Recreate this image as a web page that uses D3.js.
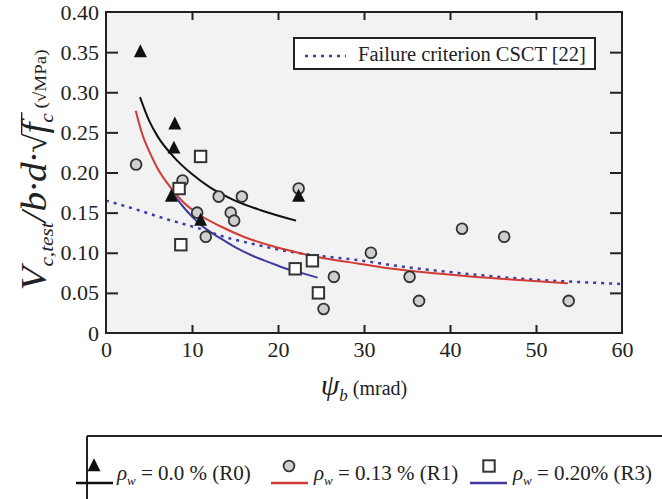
<!DOCTYPE html>
<html lang="en">
  <head>
    <meta charset="UTF-8" />
    <title>Shear strength vs rotation</title>
    <style>
      body { margin: 0; background: #fff; }
      text { font-family: "Liberation Serif", "Times New Roman", serif; fill: #222; }
    </style>
  </head>
  <body>
    <svg id="svg" width="662" height="499"></svg>

    <script src="https://d3js.org/d3.v7.min.js"></script>
    <script>
      // test points, [psi_b (mrad), V/(b d sqrt fc)]
      const r0Points = [[4.0, 0.35], [8.0, 0.26], [7.9, 0.23], [7.6, 0.17], [11.0, 0.14], [22.4, 0.17]];
      const r1Points = [
        [3.5, 0.21], [8.9, 0.19], [10.6, 0.15], [11.6, 0.12], [13.1, 0.17], [15.8, 0.17],
        [14.5, 0.15], [14.9, 0.14], [22.4, 0.18], [26.5, 0.07], [25.3, 0.03], [30.8, 0.10],
        [35.3, 0.07], [36.4, 0.04], [41.4, 0.13], [46.3, 0.12], [53.8, 0.04]
      ];
      const r3Points = [[11.0, 0.22], [8.5, 0.18], [8.7, 0.11], [22.0, 0.08], [24.0, 0.09], [24.7, 0.05]];

      // trend curves
      const r0Curve = [[3.95, 0.294], [5, 0.265], [6, 0.245], [8, 0.218], [10, 0.198], [12, 0.182], [15, 0.165], [18, 0.153], [22.1, 0.14]];
      const r1Curve = [
        [3.45, 0.277], [4.3, 0.245], [5, 0.227], [6, 0.205], [7.6, 0.18], [9, 0.163], [10.9, 0.147],
        [13.3, 0.133], [16, 0.12], [19.1, 0.109], [22, 0.101], [24.9, 0.094], [28.4, 0.088],
        [32, 0.082], [35, 0.078], [38.5, 0.074], [42.7, 0.07], [48, 0.066], [53.7, 0.062]
      ];
      const r3Curve = [[7.9, 0.172], [9, 0.157], [10, 0.145], [11, 0.135], [12, 0.127], [13.3, 0.118], [15, 0.107], [17.1, 0.096], [19, 0.088], [21, 0.08], [23, 0.074], [24.6, 0.069]];
      const csctCurve = [
        [0, 0.165], [3.2, 0.155], [7, 0.142], [10.9, 0.13], [14, 0.119], [17.1, 0.111], [21, 0.102],
        [24.9, 0.096], [28.4, 0.092], [35, 0.082], [42.7, 0.073], [50.5, 0.066], [56, 0.063], [60, 0.061]
      ];

      const xTicks = [0, 10, 20, 30, 40, 50, 60];
      const yTicks = [0, 0.05, 0.1, 0.15, 0.2, 0.25, 0.3, 0.35, 0.4];
      const yTickLabels = ["0", "0.05", "0.10", "0.15", "0.20", "0.25", "0.30", "0.35", "0.40"];

      const legendLabels = [
        { sub: "w", rest: " = 0.0 % (R0)" },
        { sub: "w", rest: " = 0.13 % (R1)" },
        { sub: "w", rest: " = 0.20% (R3)" }
      ];

      const pLeft = 106, pRight = 622, pTop = 12, pBottom = 333;
      const x = d3.scaleLinear().domain([0, 60]).range([pLeft, pRight]);
      const y = d3.scaleLinear().domain([0, 0.4]).range([pBottom, pTop]);

      const red = "#d23a35", blue = "#3f3a9c", dotBlue = "#3d3da6";

      const svg = d3.select("#svg");

      svg.append("rect")
        .attr("x", pLeft).attr("y", pTop)
        .attr("width", pRight - pLeft).attr("height", pBottom - pTop)
        .attr("fill", "#f2f2f2");

      // axes with inward ticks
      const gx = svg.append("g").attr("transform", `translate(0,${pBottom})`)
        .call(d3.axisBottom(x).tickValues(xTicks).tickSizeInner(-8).tickSizeOuter(0).tickPadding(8));
      const gxt = svg.append("g").attr("transform", `translate(0,${pTop})`)
        .call(d3.axisTop(x).tickValues(xTicks.slice(1, -1)).tickFormat("").tickSizeInner(-8).tickSizeOuter(0));
      const gy = svg.append("g").attr("transform", `translate(${pLeft},0)`)
        .call(d3.axisLeft(y).tickValues(yTicks).tickFormat((d, i) => yTickLabels[i]).tickSizeInner(-12).tickSizeOuter(0).tickPadding(6));
      const gyr = svg.append("g").attr("transform", `translate(${pRight},0)`)
        .call(d3.axisRight(y).tickValues(yTicks.slice(1, -1)).tickFormat("").tickSizeInner(-12).tickSizeOuter(0));

      [gx, gxt, gy, gyr].forEach((g) => {
        g.select(".domain").remove();
        g.selectAll(".tick line").attr("stroke", "#222").attr("stroke-width", 2);
        g.selectAll(".tick text")
          .attr("font-family", "Liberation Serif, serif")
          .attr("font-size", 22).attr("fill", "#222");
      });
      gx.selectAll(".tick line").filter((d) => d === 0 || d === 60).remove();
      gy.selectAll(".tick line").filter((d) => d === 0 || d === 0.4).remove();
      gy.selectAll(".tick text").attr("dx", "-1");

      const line = d3.line().x((d) => x(d[0])).y((d) => y(d[1])).curve(d3.curveMonotoneX);

      svg.append("path").datum(csctCurve).attr("d", line)
        .attr("fill", "none").attr("stroke", dotBlue).attr("stroke-width", 2.5)
        .attr("stroke-dasharray", "3,5");
      svg.append("path").datum(r0Curve).attr("d", line)
        .attr("fill", "none").attr("stroke", "#111").attr("stroke-width", 2);
      svg.append("path").datum(r1Curve).attr("d", line)
        .attr("fill", "none").attr("stroke", red).attr("stroke-width", 2);
      svg.append("path").datum(r3Curve).attr("d", line)
        .attr("fill", "none").attr("stroke", blue).attr("stroke-width", 2);

      // slightly tall triangle, like the printed marker
      const tallTriangle = {
        draw(ctx, size) {
          const w = Math.sqrt(size) * 0.75, h = w * 2;
          ctx.moveTo(0, -h * 0.6);
          ctx.lineTo(w, h * 0.4);
          ctx.lineTo(-w, h * 0.4);
          ctx.closePath();
        }
      };
      const tri = d3.symbol().type(tallTriangle).size(75);

      svg.append("g").selectAll("circle").data(r1Points).join("circle")
        .attr("cx", (d) => x(d[0])).attr("cy", (d) => y(d[1])).attr("r", 5.4)
        .attr("fill", "#cfcfcf").attr("stroke", "#333").attr("stroke-width", 1.8);
      svg.append("g").selectAll("rect").data(r3Points).join("rect")
        .attr("x", (d) => x(d[0]) - 5.7).attr("y", (d) => y(d[1]) - 5.7)
        .attr("width", 11.4).attr("height", 11.4)
        .attr("fill", "#fff").attr("stroke", "#333").attr("stroke-width", 2);
      svg.append("g").selectAll("path").data(r0Points).join("path")
        .attr("d", tri)
        .attr("transform", (d) => `translate(${x(d[0])},${y(d[1])})`)
        .attr("fill", "#111");

      // frame
      svg.append("rect")
        .attr("x", pLeft).attr("y", pTop)
        .attr("width", pRight - pLeft).attr("height", pBottom - pTop)
        .attr("fill", "none").attr("stroke", "#222").attr("stroke-width", 2);

      // CSCT legend box
      svg.append("rect").attr("x", 294).attr("y", 38).attr("width", 301).attr("height", 31)
        .attr("fill", "#fff").attr("stroke", "#222").attr("stroke-width", 2);
      svg.append("line").attr("x1", 305).attr("x2", 346).attr("y1", 56).attr("y2", 56)
        .attr("stroke", dotBlue).attr("stroke-width", 2.5).attr("stroke-dasharray", "3,5");
      svg.append("text").attr("x", 358).attr("y", 61).attr("font-size", 20.5)
        .text("Failure criterion CSCT [22]");

      // x title
      const xt = svg.append("text").attr("x", 364).attr("y", 395).attr("text-anchor", "middle");
      xt.append("tspan").attr("font-style", "italic").attr("font-size", 30).text("ψ");
      xt.append("tspan").attr("font-style", "italic").attr("font-size", 17).attr("dy", 6).text("b");
      xt.append("tspan").attr("font-size", 20).attr("dy", -6).text(" (mrad)");

      // y title, stretched along its length like the printed figure
      const yg = svg.append("g").attr("transform", "translate(46,170) rotate(-90) scale(1.12,1)");
      const yt = yg.append("text").attr("text-anchor", "middle");
      yt.append("tspan").attr("font-style", "italic").attr("font-size", 35).text("V");
      yt.append("tspan").attr("font-style", "italic").attr("font-size", 19).attr("dy", 7).text("c,test");
      yt.append("tspan").attr("font-style", "italic").attr("font-size", 35).attr("dy", -7).text("/b·d·");
      yt.append("tspan").attr("font-size", 31).text("√");
      yt.append("tspan").attr("font-style", "italic").attr("font-size", 35).text("f");
      yt.append("tspan").attr("font-style", "italic").attr("font-size", 19).attr("dy", 7).text("c");
      yt.append("tspan").attr("font-size", 17).attr("dy", -7).text("  (√MPa)");
      // radical bar over f_c
      const full = yt.text();
      const iF = full.indexOf("f");
      const eC = yt.node().getExtentOfChar(iF + 1);
      const eR = yt.node().getExtentOfChar(iF - 1);
      yg.append("line")
        .attr("x1", eR.x + eR.width - 1).attr("x2", eC.x + eC.width + 1)
        .attr("y1", eR.y + 3).attr("y2", eR.y + 3)
        .attr("stroke", "#222").attr("stroke-width", 1.4);

      // bottom legend
      svg.append("line").attr("x1", 87).attr("x2", 662).attr("y1", 436).attr("y2", 436)
        .attr("stroke", "#222").attr("stroke-width", 2);
      svg.append("line").attr("x1", 87).attr("x2", 87).attr("y1", 436).attr("y2", 499)
        .attr("stroke", "#222").attr("stroke-width", 2);

      const legendItems = [
        { lx: 76, mx: 94, tx: 117, color: "#111", mark: "tri" },
        { lx: 271, mx: 289, tx: 314, color: red, mark: "circle" },
        { lx: 470, mx: 489, tx: 513, color: blue, mark: "square" }
      ];
      const my = 466, ly = 483;
      legendItems.forEach((it, i) => {
        svg.append("line").attr("x1", it.lx).attr("x2", it.lx + 37).attr("y1", ly).attr("y2", ly)
          .attr("stroke", it.color).attr("stroke-width", 2.5);
        if (it.mark === "tri") {
          svg.append("path").attr("d", tri).attr("transform", `translate(${it.mx},${my})`).attr("fill", "#111");
        } else if (it.mark === "circle") {
          svg.append("circle").attr("cx", it.mx).attr("cy", my).attr("r", 5.4)
            .attr("fill", "#cfcfcf").attr("stroke", "#333").attr("stroke-width", 1.8);
        } else {
          svg.append("rect").attr("x", it.mx - 5.7).attr("y", my - 5.7).attr("width", 11.4).attr("height", 11.4)
            .attr("fill", "#fff").attr("stroke", "#333").attr("stroke-width", 2);
        }
        const t = svg.append("text").attr("x", it.tx).attr("y", 480).attr("font-size", 21);
        t.append("tspan").attr("font-style", "italic").text("ρ");
        t.append("tspan").attr("font-style", "italic").attr("font-size", 13).attr("dy", 5).text(legendLabels[i].sub);
        t.append("tspan").attr("dy", -5).text(legendLabels[i].rest);
      });
    </script>
  </body>
</html>
